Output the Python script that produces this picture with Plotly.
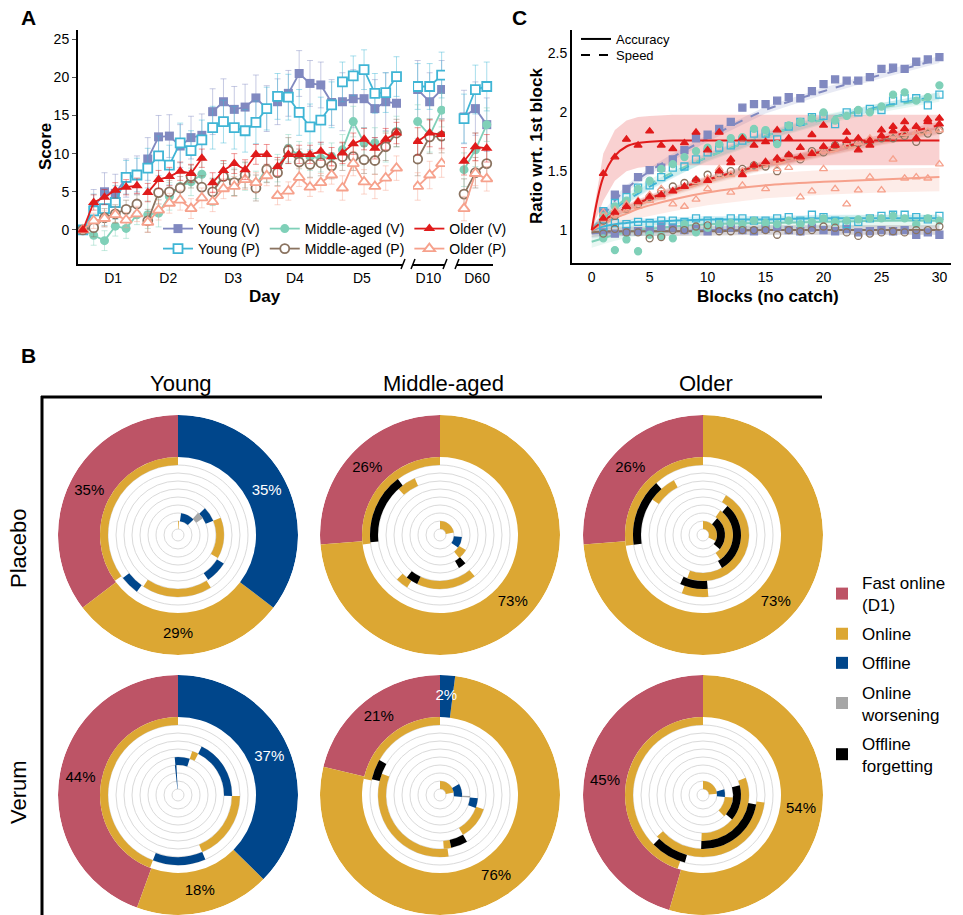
import plotly.graph_objects as go

W, H = 963, 915
FONT = "Liberation Sans, Arial, Helvetica, sans-serif"


def fx(p):
    return p / W


def fy(p):
    return 1 - p / H


def rgba(hexc, a):
    h = hexc.lstrip("#")
    return "rgba(%d,%d,%d,%s)" % (int(h[0:2], 16), int(h[2:4], 16), int(h[4:6], 16), a)


# ======================= Panel A data =======================
a_day_labels = ["D1", "D2", "D3", "D4", "D5"]
a_day_ticks = [2.8, 7.9, 13.9, 19.6, 25.8]
a_follow_blocks = [0, 1, 2]
a_d10_tick = [0.9]
a_d60_tick = [1.15]
A_BLOCKS_PER_DAY = 6

a_young_v = [0, 2.8, 5.0, 4.8, 6.8, 7.2,
             9.3, 12.2, 12.3, 11.0, 12.1, 12.4,
             15.5, 16.8, 15.8, 16.1, 17.3, 15.9,
             16.8, 17.9, 20.5, 19.2, 19.0, 16.7,
             16.8, 17.2, 17.2, 15.9, 16.8, 16.6]
a_young_v_d10 = [18.4, 16.8, 18.4]
a_young_v_d60 = [14.8, 15.9, 13.8]
a_young_v_err = [2.5, 2.8, 3.0, 3.0, 3.8, 3.8, 3.5]

a_young_p = [0, 2.5, 2.8, 3.6, 6.9, 7.2,
             8.1, 9.7, 8.5, 11.4, 10.4, 11.8,
             13.4, 14.2, 13.4, 13.0, 14.1, 15.9,
             17.5, 17.4, 15.4, 13.5, 14.4, 16.4,
             19.4, 20.2, 21.0, 17.9, 18.0, 20.1]
a_young_p_d10 = [18.8, 18.8, 20.3]
a_young_p_d60 = [14.6, 18.4, 18.8]
a_young_p_err = [2.2, 2.6, 2.8, 3.0, 2.6, 3.0, 3.2]

a_middle_v = [0, -0.7, -1.4, 0.5, 0.2, 2.0,
              2.0, 2.2, 4.4, 5.7, 6.3, 7.3,
              5.0, 7.2, 6.3, 7.0, 5.9, 8.1,
              8.1, 10.7, 9.8, 9.6, 9.4, 9.6,
              10.5, 14.2, 11.4, 11.4, 10.9, 12.9]
a_middle_v_d10 = [14.2, 12.4, 15.7]
a_middle_v_d60 = [7.9, 10.5, 13.8]
a_middle_v_err = [1.3, 1.8, 1.8, 1.8, 2.0, 2.2, 2.2]

a_middle_p = [0, 0.3, 1.6, 2.1, 2.7, 3.4,
              1.2, 4.9, 5.0, 5.5, 7.0, 5.6,
              5.0, 7.0, 6.2, 7.2, 5.5, 7.9,
              7.5, 10.4, 8.9, 8.6, 8.8, 8.4,
              9.6, 9.6, 9.2, 9.1, 10.9, 12.7]
a_middle_p_d10 = [9.3, 12.2, 12.3]
a_middle_p_d60 = [4.7, 7.5, 8.7]
a_middle_p_err = [1.2, 1.5, 1.7, 1.7, 1.8, 2.2, 2.0]

a_older_v = [0, 3.6, 4.3, 5.2, 5.6, 5.8,
             4.9, 6.6, 7.0, 7.7, 7.4, 9.4,
             6.2, 7.8, 8.7, 7.9, 9.9, 9.9,
             8.3, 9.9, 9.9, 9.9, 10.3, 9.6,
             10.1, 11.3, 11.9, 10.7, 11.9, 12.7]
a_older_v_d10 = [11.6, 12.7, 12.5]
a_older_v_d60 = [9.0, 10.9, 10.7]
a_older_v_err = [1.0, 1.2, 1.3, 1.2, 1.4, 1.8, 1.8]

a_older_p = [0, 1.2, 1.5, 2.0, 1.3, 2.1,
             1.0, 2.6, 3.5, 3.9, 2.8, 4.2,
             3.7, 5.4, 5.7, 6.6, 6.2, 7.1,
             4.5, 5.1, 6.9, 5.6, 6.2, 7.2,
             5.5, 8.7, 6.3, 5.7, 6.8, 8.1]
a_older_p_d10 = [5.7, 7.2, 8.7]
a_older_p_d60 = [2.8, 7.4, 6.7]
a_older_p_err = [1.0, 1.3, 1.3, 1.2, 1.6, 1.8, 1.6]

# ======================= Panel C data =======================
c_blocks = list(range(1, 31))
c_fit_blocks = [0, 1, 2, 3, 4, 5, 7, 10, 15, 20, 25, 30]

c_young_v_spd = [1.15, 1.30, 1.35, 1.45, 1.51, 1.53, 1.60, 1.68, 1.78, 1.81, 1.86, 1.92, 2.04, 2.07, 2.07,
                 2.10, 2.13, 2.12, 2.18, 2.24, 2.28, 2.27, 2.27, 2.30, 2.37, 2.38, 2.37, 2.43, 2.45, 2.47]
c_young_v_acc = [0.98, 0.97, 0.99, 0.99, 1.00, 1.03, 1.02, 1.00, 1.01, 0.99, 1.01, 1.02, 1.00, 0.99, 1.01,
                 1.03, 1.00, 0.99, 1.02, 1.00, 0.99, 1.01, 0.98, 0.99, 1.00, 0.99, 1.00, 0.96, 0.98, 0.96]
c_young_p_spd = [1.16, 1.23, 1.28, 1.36, 1.38, 1.45, 1.53, 1.54, 1.60, 1.66, 1.70, 1.72, 1.76, 1.82, 1.82,
                 1.77, 1.88, 1.92, 1.96, 1.97, 1.90, 2.00, 2.00, 2.03, 2.02, 2.10, 2.12, 2.12, 2.06, 2.15]
c_young_p_acc = [1.03, 1.06, 1.05, 1.07, 1.06, 1.08, 1.08, 1.07, 1.10, 1.08, 1.07, 1.10, 1.10, 1.08, 1.08,
                 1.10, 1.11, 1.08, 1.13, 1.11, 1.08, 1.05, 1.07, 1.10, 1.12, 1.13, 1.13, 1.11, 1.09, 1.12]
c_middle_v_spd = [1.12, 1.20, 1.25, 1.35, 1.42, 1.52, 1.56, 1.62, 1.67, 1.70, 1.73, 1.78, 1.79, 1.86, 1.85,
                  1.73, 1.89, 1.92, 1.95, 2.00, 1.93, 1.97, 2.02, 2.00, 2.05, 2.15, 2.17, 2.10, 2.13, 2.23]
c_middle_v_acc = [0.93, 0.83, 0.92, 0.82, 0.96, 0.95, 0.93, 1.05, 0.98, 1.02, 1.05, 1.06, 1.05, 1.08, 1.06,
                  1.05, 1.08, 1.05, 1.07, 1.10, 1.07, 1.08, 1.09, 1.10, 1.10, 1.12, 1.10, 1.05, 1.10, 1.08]
c_middle_p_spd = [1.08, 1.12, 1.18, 1.22, 1.28, 1.33, 1.37, 1.40, 1.42, 1.47, 1.48, 1.50, 1.52, 1.55, 1.54,
                  1.50, 1.63, 1.60, 1.67, 1.66, 1.72, 1.73, 1.74, 1.75, 1.78, 1.78, 1.80, 1.75, 1.82, 1.85]
c_middle_p_acc = [0.97, 1.01, 0.98, 0.98, 0.93, 0.94, 1.00, 1.00, 1.03, 1.04, 0.99, 0.99, 1.00, 1.00, 1.00,
                  0.96, 1.00, 0.99, 1.00, 1.03, 1.02, 0.98, 0.95, 0.97, 0.98, 0.99, 0.98, 1.00, 1.00, 1.03]
c_older_v_spd = [1.10, 1.15, 1.20, 1.24, 1.28, 1.30, 1.33, 1.37, 1.43, 1.42, 1.50, 1.57, 1.47, 1.55, 1.58,
                 1.61, 1.64, 1.70, 1.65, 1.71, 1.72, 1.76, 1.78, 1.76, 1.80, 1.84, 1.86, 1.88, 1.92, 1.95]
c_older_v_acc = [1.48, 1.62, 1.77, 1.72, 1.84, 1.72, 1.69, 1.74, 1.83, 1.68, 1.83, 1.60, 1.78, 1.72, 1.75,
                 1.85, 1.78, 1.62, 1.81, 1.89, 1.72, 1.83, 1.68, 1.72, 1.85, 1.88, 1.92, 1.78, 1.94, 1.90]
c_older_p_spd = [1.10, 1.13, 1.17, 1.20, 1.25, 1.28, 1.33, 1.37, 1.41, 1.44, 1.46, 1.47, 1.50, 1.55, 1.57,
                 1.58, 1.62, 1.61, 1.66, 1.67, 1.70, 1.72, 1.74, 1.78, 1.80, 1.80, 1.82, 1.83, 1.84, 1.85]
c_older_p_acc = [1.15, 1.17, 1.22, 1.25, 1.30, 1.35, 1.22, 1.20, 1.26, 1.35, 1.52, 1.32, 1.38, 1.52, 1.35,
                 1.52, 1.53, 1.28, 1.33, 1.52, 1.35, 1.22, 1.34, 1.45, 1.34, 1.60, 1.44, 1.45, 1.44, 1.56]

# fitted curves (read at c_fit_blocks)
f_young_v_spd = [1.00, 1.12, 1.25, 1.35, 1.43, 1.50, 1.62, 1.78, 2.02, 2.18, 2.32, 2.45]
f_young_v_acc = [0.97, 0.98, 0.98, 0.99, 0.99, 0.99, 0.99, 1.00, 1.00, 1.00, 1.00, 1.00]
f_young_p_spd = [1.00, 1.10, 1.18, 1.25, 1.31, 1.37, 1.47, 1.62, 1.80, 1.94, 2.05, 2.14]
f_young_p_acc = [1.00, 1.03, 1.05, 1.06, 1.07, 1.07, 1.08, 1.09, 1.09, 1.10, 1.10, 1.10]
f_middle_v_spd = [1.00, 1.10, 1.19, 1.27, 1.33, 1.39, 1.49, 1.62, 1.80, 1.94, 2.04, 2.13]
f_middle_v_acc = [0.90, 0.93, 0.96, 0.98, 1.00, 1.01, 1.03, 1.05, 1.06, 1.07, 1.08, 1.08]
f_middle_p_spd = [1.00, 1.06, 1.12, 1.17, 1.22, 1.26, 1.33, 1.42, 1.55, 1.66, 1.76, 1.85]
f_middle_p_acc = [0.98, 0.99, 0.99, 0.99, 0.99, 0.99, 0.99, 0.99, 1.00, 1.00, 1.00, 1.00]
f_older_v_spd = [1.00, 1.08, 1.14, 1.19, 1.23, 1.27, 1.34, 1.43, 1.56, 1.67, 1.78, 1.89]
f_older_v_acc = [1.00, 1.45, 1.63, 1.71, 1.74, 1.75, 1.76, 1.76, 1.76, 1.76, 1.76, 1.76]
f_older_p_spd = [1.00, 1.07, 1.12, 1.17, 1.21, 1.25, 1.32, 1.41, 1.54, 1.65, 1.75, 1.84]
f_older_p_acc = [1.00, 1.05, 1.10, 1.14, 1.18, 1.21, 1.26, 1.32, 1.38, 1.41, 1.43, 1.45]

# confidence bands
b_older_v_acc_lo = [1.00, 1.25, 1.42, 1.50, 1.53, 1.54, 1.55, 1.55, 1.55, 1.55, 1.55, 1.55]
b_older_v_acc_hi = [1.06, 1.65, 1.85, 1.93, 1.96, 1.97, 1.98, 1.98, 1.98, 1.98, 1.98, 1.98]
b_older_p_acc_lo = [0.97, 1.00, 1.04, 1.07, 1.10, 1.12, 1.16, 1.21, 1.27, 1.30, 1.32, 1.33]
b_older_p_acc_hi = [1.03, 1.10, 1.16, 1.21, 1.25, 1.29, 1.35, 1.42, 1.48, 1.51, 1.52, 1.53]
b_half_young_v = [0.04, 0.03]    # accuracy, speed
b_half_young_p = [0.03, 0.03]
b_half_middle_v = [0.05, 0.04]
b_half_middle_p = [0.04, 0.03]
b_half_older_v = [None, 0.03]
b_half_older_p = [None, 0.03]

# ======================= Panel B data =======================
b_groups = ["Young", "Middle-aged", "Older"]
b_conditions = ["Placebo", "Verum"]
b_cat_names = {"fast": "Fast online<br>(D1)", "on": "Online", "off": "Offline",
               "worse": "Online<br>worsening", "forget": "Offline<br>forgetting"}
b_cat_order = ["fast", "on", "off", "worse", "forget"]
# outer ring, clockwise from 12 o'clock: offline, online, fast online (%)
pct_young_placebo = [35, 29, 35]
pct_middle_placebo = [0, 73, 26]
pct_older_placebo = [0, 73, 26]
pct_young_verum = [37, 18, 44]
pct_middle_verum = [2, 76, 21]
pct_older_verum = [0, 54, 45]
# inner spiral arcs: (ring, start deg, end deg, category)
arcs_young_placebo = [(0, 0, 4, "on"), (1, 8, 45, "off"), (2, 42, 56, "worse"), (3, 45, 68, "off"),
                      (4, 68, 120, "on"), (5, 122, 146, "off"), (6, 148, 214, "on"),
                      (7, 216, 232, "off"), (8, 234, 360, "on")]
arcs_middle_placebo = [(0, 0, 80, "on"), (1, 95, 125, "off"), (2, 120, 140, "on"),
                       (3, 138, 150, "forget"), (5, 140, 205, "on"), (5, 205, 218, "forget"),
                       (6, 212, 224, "on"), (7, 264, 323, "forget"), (6, 318, 336, "on"),
                       (8, 263, 360, "on")]
arcs_older_placebo = [(0, 0, 115, "on"), (1, 40, 130, "forget"), (2, 35, 145, "on"),
                      (3, 40, 150, "forget"), (4, 30, 200, "on"), (5, 175, 205, "forget"),
                      (6, 175, 200, "on"), (7, 262, 318, "forget"), (6, 305, 332, "on"),
                      (8, 262, 360, "on")]
arcs_young_verum = [(0, 354, 357, "off"), (1, 354, 357, "off"), (2, 354, 357, "off"),
                    (3, 355, 18, "off"), (4, 18, 26, "on"), (5, 26, 91, "off"),
                    (6, 91, 157, "on"), (7, 157, 201, "off"), (8, 201, 360, "on")]
arcs_middle_verum = [(0, 0, 80, "on"), (1, 60, 95, "off"), (2, 92, 95, "worse"),
                     (3, 95, 110, "off"), (4, 108, 150, "on"), (5, 150, 168, "forget"),
                     (5, 168, 176, "on"), (6, 172, 290, "on"), (7, 283, 300, "forget"),
                     (8, 282, 360, "on")]
arcs_older_verum = [(0, 0, 85, "on"), (1, 75, 95, "off"), (2, 95, 135, "on"),
                    (3, 75, 130, "forget"), (4, 68, 182, "on"), (5, 100, 182, "forget"),
                    (6, 97, 228, "on"), (7, 195, 225, "forget"), (8, 199, 360, "on")]

# ======================= styles =======================
COL_YV, COL_YP = "#8189c0", "#3fb5d5"
COL_MV, COL_MP = "#7fd0b8", "#8a7360"
COL_OV, COL_OP = "#e01b1b", "#f6a18c"
CAT_COL = {"fast": "#bd5466", "on": "#dca733", "off": "#00468b", "worse": "#a6a6a6", "forget": "#000000"}

fig = go.Figure()

# ======================= Panel A traces =======================
A_SERIES = [
    ("Young (V)", a_young_v, a_young_v_d10, a_young_v_d60, a_young_v_err, COL_YV, "square", True, "legend", 1),
    ("Young (P)", a_young_p, a_young_p_d10, a_young_p_d60, a_young_p_err, COL_YP, "square", False, "legend2", 1),
    ("Middle-aged (V)", a_middle_v, a_middle_v_d10, a_middle_v_d60, a_middle_v_err, COL_MV, "circle", True, "legend", 2),
    ("Middle-aged (P)", a_middle_p, a_middle_p_d10, a_middle_p_d60, a_middle_p_err, COL_MP, "circle", False, "legend2", 2),
    ("Older (P)", a_older_p, a_older_p_d10, a_older_p_d60, a_older_p_err, COL_OP, "triangle-up", False, "legend2", 3),
    ("Older (V)", a_older_v, a_older_v_d10, a_older_v_d60, a_older_v_err, COL_OV, "triangle-up", True, "legend", 3),
]
for name, vals, d10, d60, err, col, sym, filled, leg, rank in A_SERIES:
    xs, ys, es = [], [], []
    n_days = len(vals) // A_BLOCKS_PER_DAY
    for d in range(n_days):
        for k in range(A_BLOCKS_PER_DAY):
            i = d * A_BLOCKS_PER_DAY + k
            xs.append(i)
            ys.append(vals[i])
            es.append(0 if i == 0 else err[d])
        xs.append(None)
        ys.append(None)
        es.append(0)
    size = 10 if sym == "triangle-up" else 9
    marker = dict(symbol=sym, size=size, color=col if filled else "white",
                  line=dict(color=col, width=0 if filled else 1.8))
    ebar = lambda arr: dict(type="data", array=arr, color=rgba(col, 0.45), thickness=1, width=3)
    fig.add_trace(go.Scatter(x=xs, y=ys, mode="lines+markers", name=name, legend=leg, legendrank=rank,
                             line=dict(color=col, width=1.8), marker=marker, error_y=ebar(es),
                             xaxis="x", yaxis="y", connectgaps=False))
    fig.add_trace(go.Scatter(x=a_follow_blocks, y=d10, mode="lines+markers", showlegend=False,
                             line=dict(color=col, width=1.8), marker=marker,
                             error_y=ebar([err[5]] * len(d10)), xaxis="x2", yaxis="y"))
    fig.add_trace(go.Scatter(x=a_follow_blocks, y=d60, mode="lines+markers", showlegend=False,
                             line=dict(color=col, width=1.8), marker=marker,
                             error_y=ebar([err[6]] * len(d60)), xaxis="x3", yaxis="y"))

# ======================= Panel C traces =======================
C_SERIES = [
    (c_young_v_acc, c_young_v_spd, f_young_v_acc, f_young_v_spd, b_half_young_v, None, COL_YV, "square", True),
    (c_young_p_acc, c_young_p_spd, f_young_p_acc, f_young_p_spd, b_half_young_p, None, COL_YP, "square", False),
    (c_middle_v_acc, c_middle_v_spd, f_middle_v_acc, f_middle_v_spd, b_half_middle_v, None, COL_MV, "circle", True),
    (c_middle_p_acc, c_middle_p_spd, f_middle_p_acc, f_middle_p_spd, b_half_middle_p, None, COL_MP, "circle", False),
    (c_older_p_acc, c_older_p_spd, f_older_p_acc, f_older_p_spd, b_half_older_p,
     (b_older_p_acc_lo, b_older_p_acc_hi), COL_OP, "triangle-up", False),
    (c_older_v_acc, c_older_v_spd, f_older_v_acc, f_older_v_spd, b_half_older_v,
     (b_older_v_acc_lo, b_older_v_acc_hi), COL_OV, "triangle-up", True),
]
for acc, spd, facc, fspd, half, accband, col, sym, filled in C_SERIES:
    for j, fit in enumerate([facc, fspd]):
        if j == 0 and accband is not None:
            lo, hi = accband
            alpha = 0.2
        else:
            lo = [v - half[j] for v in fit]
            hi = [v + half[j] for v in fit]
            alpha = 0.18
        fig.add_trace(go.Scatter(x=c_fit_blocks + c_fit_blocks[::-1], y=hi + lo[::-1], fill="toself",
                                 fillcolor=rgba(col, alpha), line=dict(width=0), mode="lines",
                                 hoverinfo="skip", showlegend=False, xaxis="x4", yaxis="y2"))
for acc, spd, facc, fspd, half, accband, col, sym, filled in C_SERIES:
    for fit, dash in [(facc, "solid"), (fspd, "dash")]:
        fig.add_trace(go.Scatter(x=c_fit_blocks, y=fit, mode="lines", line=dict(color=col, width=2, dash=dash,
                                 shape="spline"), showlegend=False, xaxis="x4", yaxis="y2"))
for acc, spd, facc, fspd, half, accband, col, sym, filled in C_SERIES:
    s = sym if filled else sym + "-open"
    for pts in (acc, spd):
        fig.add_trace(go.Scatter(x=c_blocks, y=pts, mode="markers", showlegend=False,
                                 marker=dict(symbol=s, size=7, color=col, line=dict(color=col, width=1.3)),
                                 xaxis="x4", yaxis="y2"))
# legend C (one legend per row for tight spacing)
for nm, dash, lg in [("Accuracy", "solid", "legend3"), ("Speed", "dash", "legend5")]:
    fig.add_trace(go.Scatter(x=[None], y=[None], mode="lines", name=nm, legend=lg,
                             line=dict(color="black", width=2, dash=dash), xaxis="x4", yaxis="y2"))

# ======================= Panel B (polar) =======================
R_HOLE, TRACK_W, DONUT_IN, R_OUT = 6, 8, 78, 120
B_CX = [178, 440, 703]
B_CY = [535, 795]
B_CHARTS = [
    (pct_young_placebo, arcs_young_placebo), (pct_middle_placebo, arcs_middle_placebo),
    (pct_older_placebo, arcs_older_placebo),
    (pct_young_verum, arcs_young_verum), (pct_middle_verum, arcs_middle_verum),
    (pct_older_verum, arcs_older_verum),
]
seen = set()
ring_keys = ["off", "on", "fast"]
polar_layouts = {}
for idx, (pct, arcs) in enumerate(B_CHARTS):
    pk = "polar" if idx == 0 else "polar%d" % (idx + 1)
    row, colidx = divmod(idx, 3)
    cx, cy = B_CX[colidx], B_CY[row]
    polar_layouts[pk] = dict(
        domain=dict(x=[fx(cx - R_OUT), fx(cx + R_OUT)], y=[max(0, fy(cy + R_OUT)), fy(cy - R_OUT)]),
        bgcolor="white", barmode="overlay", hole=0,
        radialaxis=dict(range=[0, R_OUT], tickvals=[R_HOLE + TRACK_W * k for k in range(9)],
                        showticklabels=False, ticks="", showline=False, gridcolor="#dadada",
                        gridwidth=1, layer="below traces"),
        angularaxis=dict(rotation=90, direction="clockwise", showgrid=False, showticklabels=False,
                         ticks="", showline=False, layer="below traces"),
    )
    bars = {c: dict(theta=[], width=[], base=[], r=[]) for c in b_cat_order}
    total = float(sum(pct))
    start = 0.0
    labels = []
    for p, key in zip(pct, ring_keys):
        span = p / total * 360.0
        if p > 0:
            bars[key]["theta"].append(start + span / 2)
            bars[key]["width"].append(span)
            bars[key]["base"].append(DONUT_IN)
            bars[key]["r"].append(R_OUT - DONUT_IN)
            labels.append((start + span / 2, "%d%%" % p, "white" if key == "off" else "black"))
        start += span
    for ring, a0, a1, key in arcs:
        span = (a1 - a0) % 360 or 360
        bars[key]["theta"].append(a0 + span / 2)
        bars[key]["width"].append(span)
        bars[key]["base"].append(R_HOLE + TRACK_W * ring)
        bars[key]["r"].append(TRACK_W)
    for rank, key in enumerate(b_cat_order):
        b = bars[key]
        if not b["theta"]:
            continue
        show = key not in seen
        seen.add(key)
        fig.add_trace(go.Barpolar(theta=b["theta"], width=b["width"], base=b["base"], r=b["r"],
                                  marker=dict(color=CAT_COL[key], line=dict(width=0)),
                                  name=b_cat_names[key], legend="legend4", legendgroup=key,
                                  legendrank=rank + 1, showlegend=show, subplot=pk, hoverinfo="skip"))
    fig.add_trace(go.Scatterpolar(r=[(DONUT_IN + R_OUT) / 2] * len(labels), theta=[l[0] for l in labels],
                                  text=[l[1] for l in labels], mode="text",
                                  textfont=dict(size=15, color=[l[2] for l in labels], family=FONT),
                                  showlegend=False, subplot=pk, hoverinfo="skip"))

# ======================= Layout =======================
axis_common = dict(showline=True, linecolor="black", linewidth=2, showgrid=False, zeroline=False,
                   tickfont=dict(size=14, color="black", family=FONT))
annotations = []


def ann(text, x, y, size, bold=False, angle=0):
    annotations.append(dict(text=("<b>%s</b>" % text) if bold else text, x=fx(x), y=fy(y), xref="paper",
                            yref="paper", showarrow=False, xanchor="center", yanchor="middle",
                            textangle=angle, font=dict(size=size, color="black", family=FONT)))


ann("A", 28, 18, 21, bold=True)
ann("C", 519, 18, 21, bold=True)
ann("B", 28, 355, 21, bold=True)
ann("Score", 45, 147, 17, bold=True, angle=-90)
ann("Day", 265, 297, 17, bold=True)
ann("Ratio wrt. 1st block", 537, 146, 17, bold=True, angle=-90)
ann("Blocks (no catch)", 768, 297, 17, bold=True)
for g, x in zip(b_groups, B_CX):
    ann(g, x + 3, 383, 22)
for c, y in zip(b_conditions, [548, 792]):
    ann(c, 18, y, 22, angle=-90)

shapes = [
    dict(type="line", xref="paper", yref="paper", x0=fx(41), x1=fx(822), y0=fy(397), y1=fy(397),
         line=dict(color="black", width=3)),
    dict(type="line", xref="paper", yref="paper", x0=fx(42), x1=fx(42), y0=fy(396), y1=0,
         line=dict(color="black", width=3)),
]
for bx in [403, 413, 445, 457]:
    shapes.append(dict(type="line", xref="paper", yref="paper", x0=fx(bx - 2), x1=fx(bx + 2),
                       y0=fy(269), y1=fy(259), line=dict(color="black", width=1.5)))

leg_common = dict(bgcolor="rgba(0,0,0,0)", itemwidth=30)
fig.update_layout(
    width=W, height=H, autosize=False, margin=dict(l=0, r=0, t=0, b=0),
    paper_bgcolor="white", plot_bgcolor="white", font=dict(family=FONT, color="black"),
    xaxis=dict(domain=[fx(78), fx(403)], range=[-0.45, 29.6], anchor="y", tickvals=a_day_ticks,
               ticktext=a_day_labels, ticks="", **axis_common),
    xaxis2=dict(domain=[fx(413), fx(445)], range=[-0.39, 2.28], anchor="y", tickvals=a_d10_tick,
                ticktext=["D10"], ticks="", **axis_common),
    xaxis3=dict(domain=[fx(457), fx(493)], range=[-0.62, 2.55], anchor="y", tickvals=a_d60_tick,
                ticktext=["D60"], ticks="", **axis_common),
    yaxis=dict(domain=[fy(264), fy(30)], range=[-4.46, 26.2], anchor="x", tickvals=[0, 5, 10, 15, 20, 25],
               ticks="outside", ticklen=4, tickcolor="#555", **axis_common),
    xaxis4=dict(domain=[fx(572), fx(951)], range=[-1.7, 31.0], anchor="y2", tickvals=[0, 5, 10, 15, 20, 25, 30],
                ticks="", **axis_common),
    yaxis2=dict(domain=[fy(263), fy(30)], range=[0.72, 2.70], anchor="x4", tickvals=[1, 1.5, 2, 2.5],
                ticktext=["1", "1.5", "2", "2.5"], ticks="", **axis_common),
    legend=dict(x=fx(158), y=fy(229), xanchor="left", yanchor="middle", orientation="h",
                font=dict(size=14, family=FONT), **leg_common),
    legend2=dict(x=fx(158), y=fy(249), xanchor="left", yanchor="middle", orientation="h",
                 font=dict(size=14, family=FONT), **leg_common),
    legend3=dict(x=fx(576), y=fy(39), xanchor="left", yanchor="middle", orientation="v",
                 font=dict(size=13, family=FONT), **leg_common),
    legend5=dict(x=fx(576), y=fy(55), xanchor="left", yanchor="middle", orientation="v",
                 font=dict(size=13, family=FONT), **leg_common),
    legend4=dict(x=fx(822), y=fy(565), xanchor="left", yanchor="top", orientation="v",
                 font=dict(size=17, family=FONT), tracegroupgap=4, **leg_common),
    annotations=annotations, shapes=shapes,
    **polar_layouts,
)

fig.write_html("out.html", config={"displayModeBar": False},
               post_script="document.body.style.margin='0';")
